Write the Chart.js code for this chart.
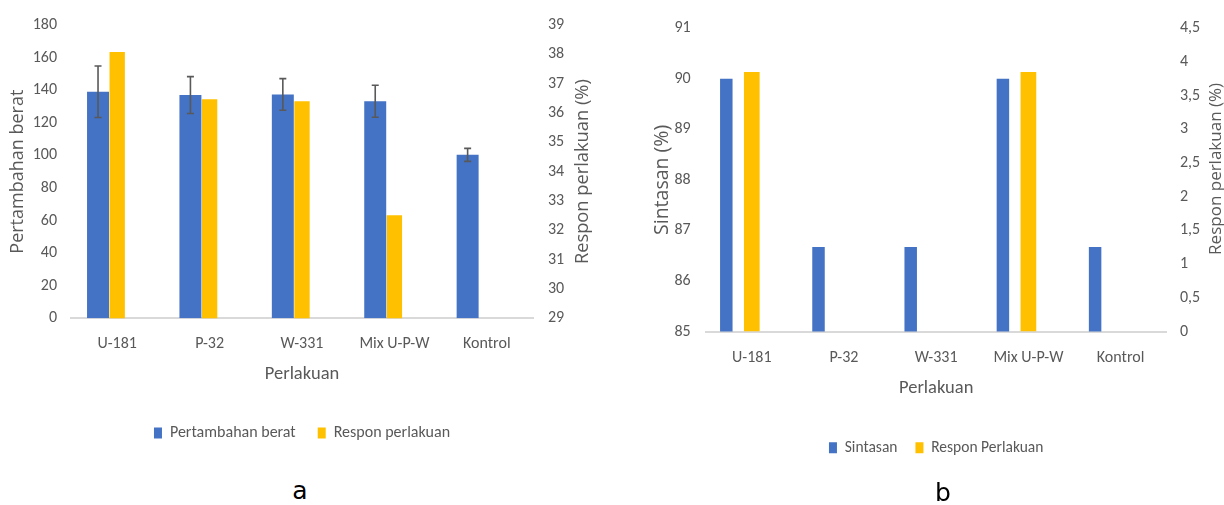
<!DOCTYPE html>
<html><head><meta charset="utf-8">
<script src="https://cdn.jsdelivr.net/npm/chart.js@4.4.1/dist/chart.umd.min.js"></script>
<style>
html,body{margin:0;padding:0;background:#fff;width:1224px;height:505px;overflow:hidden;}
.box{position:absolute;top:0;}
#wa{left:0;width:612px;height:460px;}
#wb{left:612px;width:612px;height:480px;}
.cap{position:absolute;font-family:'DejaVu Sans',sans-serif;font-size:25px;color:#000;transform:translate(-50%,-50%);}
</style></head><body>
<div class="box" id="wa"><canvas id="ca"></canvas></div>
<div class="box" id="wb"><canvas id="cb"></canvas></div>
<div class="cap" style="left:300px;top:490px">a</div>
<div class="cap" style="left:943px;top:492px">b</div>
<script>
// ---- data ----
const categories = ['U-181', 'P-32', 'W-331', 'Mix U-P-W', 'Kontrol'];
const weightGain = [139, 137, 137.4, 133.2, 100.3];
const weightGainErr = [15.8, 11.3, 9.7, 9.8, 4];
const responseA = [38.08, 36.47, 36.4, 32.51, null];
const survival = [90, 86.67, 86.67, 90, 86.67];
const responseB = [3.85, null, null, 3.85, null];
const ticksWeight = ['0', '20', '40', '60', '80', '100', '120', '140', '160', '180'];
const ticksRespA = ['29', '30', '31', '32', '33', '34', '35', '36', '37', '38', '39'];
const ticksSurv = ['85', '86', '87', '88', '89', '90', '91'];
const ticksRespB = ['0', '0,5', '1', '1,5', '2', '2,5', '3', '3,5', '4', '4,5'];

const BLUE = '#4472C4', GOLD = '#FFC000', GREY = '#595959';
const NARROW = "Carlito, Calibri, 'DejaVu Sans Condensed', sans-serif";
const WIDE = "'Open Sans', sans-serif";
const num = s => parseFloat(s.replace(',', '.'));

const errorBars = {
  id: 'errorBars',
  afterDatasetsDraw(chart) {
    const meta = chart.getDatasetMeta(0);
    const ys = chart.scales.y;
    const ctx = chart.ctx;
    ctx.save();
    ctx.strokeStyle = GREY; ctx.lineWidth = 1.6;
    meta.data.forEach((bar, i) => {
      const v = weightGain[i], e = weightGainErr[i];
      const t = ys.getPixelForValue(v + e), b = ys.getPixelForValue(v - e);
      const x = bar.x;
      ctx.beginPath();
      ctx.moveTo(x, t); ctx.lineTo(x, b);
      ctx.moveTo(x - 3.5, t); ctx.lineTo(x + 3.5, t);
      ctx.moveTo(x - 3.5, b); ctx.lineTo(x + 3.5, b);
      ctx.stroke();
    });
    ctx.restore();
  }
};

// right-axis title, read bottom-to-top like the left one
const rightTitle = {
  id: 'rightTitle',
  afterDraw(chart, args, opts) {
    const ca = chart.chartArea, ctx = chart.ctx;
    ctx.save();
    ctx.translate(opts.x, (ca.top + ca.bottom) / 2 + (opts.dy || 0));
    ctx.rotate(-Math.PI / 2);
    ctx.font = `${opts.size}px ${WIDE}`;
    ctx.fillStyle = GREY;
    ctx.textAlign = 'center';
    ctx.textBaseline = 'middle';
    ctx.fillText(opts.text, 0, 0);
    ctx.restore();
  }
};

function yAxis(pos, tickArr, width, tickPad, title) {
  const ax = {
    position: pos,
    min: num(tickArr[0]), max: num(tickArr[tickArr.length - 1]),
    grid: { display: false, drawTicks: false },
    border: { display: false },
    afterFit: s => { s.width = width; },
    ticks: {
      stepSize: num(tickArr[1]) - num(tickArr[0]),
      padding: tickPad, color: GREY,
      font: { family: NARROW, size: 16 },
      callback: (v, i) => tickArr[i]
    }
  };
  if (title) ax.title = { display: true, text: title.text, color: GREY,
      font: { family: WIDE, size: title.size, lineHeight: 1.2 },
      padding: { top: title.pad, bottom: 0 } };
  return ax;
}

function xAxis(height, tickPad, titleBottom) {
  return {
    grid: { display: false, drawTicks: false },
    border: { display: true, color: '#D9D9D9', width: 2 },
    afterFit: s => { s.height = height; },
    ticks: { padding: tickPad, color: GREY, font: { family: NARROW, size: 16 } },
    title: { display: true, text: 'Perlakuan', color: GREY,
      font: { family: NARROW, size: 18.5, lineHeight: 1.2 },
      padding: { top: 0, bottom: titleBottom } }
  };
}

function legend(pad, size) {
  return {
    position: 'bottom', fullSize: false,
    labels: {
      boxWidth: 8, boxHeight: 11, padding: pad, color: GREY,
      font: { family: NARROW, size: size },
      filter: item => item.text !== ''
    }
  };
}

// ---- chart a ----
new Chart(document.getElementById('ca'), {
  type: 'bar',
  data: {
    labels: categories,
    datasets: [
      { label: 'Pertambahan berat', data: weightGain, backgroundColor: BLUE, yAxisID: 'y',
        categoryPercentage: 0.83, barPercentage: 0.573 },
      { label: '', data: categories.map(() => null), yAxisID: 'y',
        categoryPercentage: 0.83, barPercentage: 0.573 },
      { label: 'Respon perlakuan', data: responseA, backgroundColor: GOLD, yAxisID: 'y2',
        grouped: false, categoryPercentage: 1, barPercentage: 0.166 }
    ]
  },
  options: {
    responsive: true, maintainAspectRatio: false, animation: false,
    layout: { padding: { top: 25, left: 0, right: 0, bottom: 9 } },
    plugins: {
      legend: legend(22, 16), tooltip: { enabled: false },
      rightTitle: { text: 'Respon perlakuan (%)', x: 583, size: 18.3, dy: 0 }
    },
    scales: {
      x: xAxis(84.7, 16, 17.2),
      y: yAxis('left', ticksWeight, 71, 14, { text: 'Pertambahan berat', size: 18, pad: 7.2 }),
      y2: yAxis('right', ticksRespA, 79, 15, null)
    }
  },
  plugins: [errorBars, rightTitle]
});

// ---- chart b ----
new Chart(document.getElementById('cb'), {
  type: 'bar',
  data: {
    labels: categories,
    datasets: [
      { label: 'Sintasan', data: survival, backgroundColor: BLUE, yAxisID: 'y',
        categoryPercentage: 1.106, barPercentage: 0.245 },
      { label: '', data: categories.map(() => null), yAxisID: 'y',
        categoryPercentage: 1.106, barPercentage: 0.245 },
      { label: 'Respon Perlakuan', data: responseB, backgroundColor: GOLD, yAxisID: 'y2',
        grouped: false, categoryPercentage: 1, barPercentage: 0.17 }
    ]
  },
  options: {
    responsive: true, maintainAspectRatio: false, animation: false,
    layout: { padding: { top: 28.3, left: 0, right: 0, bottom: 14.5 } },
    plugins: {
      legend: legend(18, 15.5), tooltip: { enabled: false },
      rightTitle: { text: 'Respon perlakuan (%)', x: 604.6, size: 17, dy: -11 }
    },
    scales: {
      x: xAxis(90.5, 17, 22.7),
      y: yAxis('left', ticksSurv, 93.7, 15, { text: 'Sintasan (%)', size: 19.5, pad: 38.3 }),
      y2: yAxis('right', ticksRespB, 57.3, 13.3, null)
    }
  },
  plugins: [rightTitle]
});
</script>
</body></html>
